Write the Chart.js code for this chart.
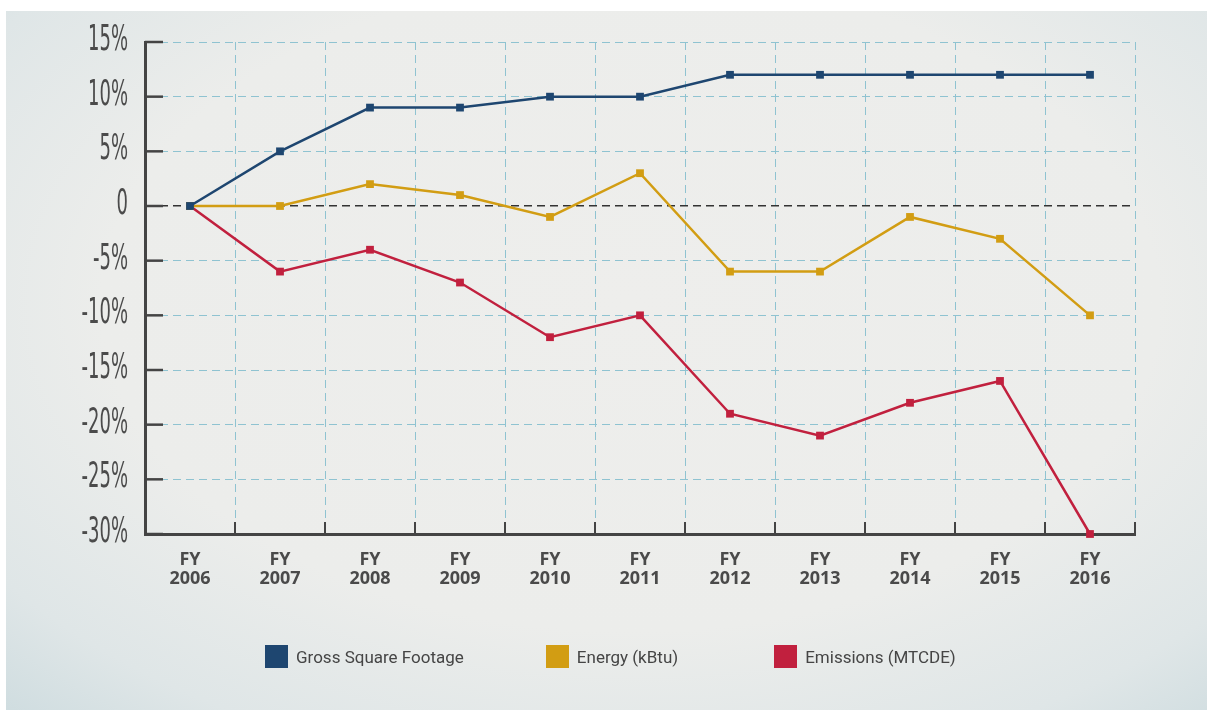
<!DOCTYPE html>
<html>
<head>
<meta charset="utf-8">
<script src="https://cdn.jsdelivr.net/npm/chart.js@4.4.0/dist/chart.umd.min.js"></script>
<style>
    html, body { margin: 0; padding: 0; background: #ffffff; }
    #wrap { position: relative; width: 1207px; height: 710px; overflow: hidden; }
    #bg {
        position: absolute; left: 6px; top: 11px; right: 0; bottom: 0;
        background: radial-gradient(ellipse 80% 85% at 52% 42%, #eeeeec 0%, #ecedeb 55%, #dfe6e7 80%, #c9d9dd 100%);
    }
    #chart { position: absolute; left: 0; top: 0; }
    #chartLegend {
        position: absolute; left: 265px; top: 645px;
        display: flex;
        font-family: Roboto, "Liberation Sans", sans-serif; font-size: 17px; color: #454545;
    }
    .legend-item { display: flex; align-items: center; margin-right: 82px; }
    .legend-item:nth-child(2) { margin-right: 96px; }
    .legend-box { width: 23px; height: 23px; margin-right: 8px; }
</style>
</head>
<body>
<div id="wrap">
    <div id="bg"></div>
    <canvas id="chart" width="1207" height="710"></canvas>
    <div id="chartLegend"></div>
</div>
<script>
// Fiscal years along the x axis
const fiscalYears = ['2006', '2007', '2008', '2009', '2010', '2011', '2012', '2013', '2014', '2015', '2016'];

// Percent change from FY 2006
const grossSquareFootage = [0, 5, 9, 9, 10, 10, 12, 12, 12, 12, 12];
const energyKbtu = [0, 0, 2, 1, -1, 3, -6, -6, -1, -3, -10];
const emissionsMtcde = [0, -6, -4, -7, -12, -10, -19, -21, -18, -16, -30];

const seriesNames = ['Gross Square Footage', 'Energy (kBtu)', 'Emissions (MTCDE)'];
const seriesColors = ['#1e4670', '#d29d13', '#c1203e'];

// y axis range and step
const yMin = -30;
const yMax = 15;
const yStep = 5;

const gridBlue = '#8fc3d1';
const axisDark = '#444444';

function makeDataset(label, data, color) {
    return {
        label: label,
        data: data,
        borderColor: color,
        backgroundColor: color,
        pointBackgroundColor: color,
        pointBorderColor: color,
        borderWidth: 2.5,
        pointStyle: 'rect',
        pointRadius: 5.5,
        pointBorderWidth: 0,
        tension: 0,
        clip: false
    };
}

// Plugin for the inner tick marks and the condensed y labels
const axisDecor = {
    id: 'axisDecor',
    afterDraw(chart) {
        const ctx = chart.ctx;
        const xs = chart.scales.x;
        const ys = chart.scales.y;
        const area = chart.chartArea;

        ctx.save();
        ctx.strokeStyle = axisDark;

        // short marks on the y axis, pointing into the plot
        ctx.lineWidth = 2.5;
        ys.ticks.forEach(t => {
            const y = ys.getPixelForValue(t.value);
            ctx.beginPath();
            ctx.moveTo(area.left, y);
            ctx.lineTo(area.left + 18, y);
            ctx.stroke();
        });

        // short marks on the x axis at the category boundaries
        ctx.lineWidth = 2;
        for (let i = 0; i < fiscalYears.length; i++) {
            let x;
            if (i < fiscalYears.length - 1) {
                x = (xs.getPixelForTick(i) + xs.getPixelForTick(i + 1)) / 2;
            } else {
                x = area.right;
            }
            ctx.beginPath();
            ctx.moveTo(x, area.bottom);
            ctx.lineTo(x, area.bottom - 12);
            ctx.stroke();
        }

        // condensed y tick labels
        ctx.fillStyle = '#4b4b4b';
        ctx.font = '35px "Liberation Sans Narrow", "DejaVu Sans Condensed", "Liberation Sans", sans-serif';
        ctx.textAlign = 'right';
        ctx.textBaseline = 'middle';
        const squeeze = 40 / ctx.measureText('15%').width;
        ys.ticks.forEach(t => {
            const y = ys.getPixelForValue(t.value);
            ctx.save();
            ctx.translate(area.left - 17, y - 1);
            ctx.scale(squeeze, 1);
            ctx.fillText(t.label, 0, 0);
            ctx.restore();
        });
        ctx.restore();
    }
};

function generateLegend(chart) {
    const container = document.getElementById('chartLegend');
    container.innerHTML = '';
    chart.data.datasets.forEach(ds => {
        const item = document.createElement('div');
        item.className = 'legend-item';
        const box = document.createElement('span');
        box.className = 'legend-box';
        box.style.backgroundColor = ds.borderColor;
        const text = document.createElement('span');
        text.textContent = ds.label;
        item.appendChild(box);
        item.appendChild(text);
        container.appendChild(item);
    });
}

const chart = new Chart(document.getElementById('chart').getContext('2d'), {
    type: 'line',
    data: {
        labels: fiscalYears.map(y => ['FY', y]),
        datasets: [
            makeDataset(seriesNames[0], grossSquareFootage, seriesColors[0]),
            makeDataset(seriesNames[1], energyKbtu, seriesColors[1]),
            makeDataset(seriesNames[2], emissionsMtcde, seriesColors[2])
        ]
    },
    options: {
        responsive: false,
        animation: false,
        layout: { padding: { top: 42, right: 72, left: 0, bottom: 0 } },
        plugins: {
            legend: { display: false },
            tooltip: { enabled: false }
        },
        scales: {
            x: {
                offset: true,
                grid: {
                    offset: true,
                    color: gridBlue,
                    lineWidth: 1,
                    drawTicks: false
                },
                border: { display: true, color: axisDark, width: 3, dash: [8, 5] },
                ticks: {
                    color: '#4a4a4a',
                    padding: 16,
                    maxRotation: 0,
                    autoSkip: false,
                    font: { family: '"Open Sans", "Liberation Sans", sans-serif', size: 18, weight: 'bold', lineHeight: 1.06 }
                },
                afterFit(scale) { scale.height = 176; }
            },
            y: {
                min: yMin,
                max: yMax,
                grid: {
                    color: ctx => {
                        if (ctx.tick.value === 0) return '#333333';
                        if (ctx.tick.value === yMin) return 'rgba(0,0,0,0)';
                        return gridBlue;
                    },
                    lineWidth: ctx => ctx.tick.value === 0 ? 1.5 : 1,
                    drawTicks: false
                },
                border: { display: true, color: axisDark, width: 3, dash: [8, 5] },
                ticks: {
                    stepSize: yStep,
                    display: false,
                    callback: v => v === 0 ? '0' : v + '%'
                },
                afterFit(scale) { scale.width = 145; }
            }
        }
    },
    plugins: [axisDecor]
});

generateLegend(chart);
</script>
</body>
</html>
